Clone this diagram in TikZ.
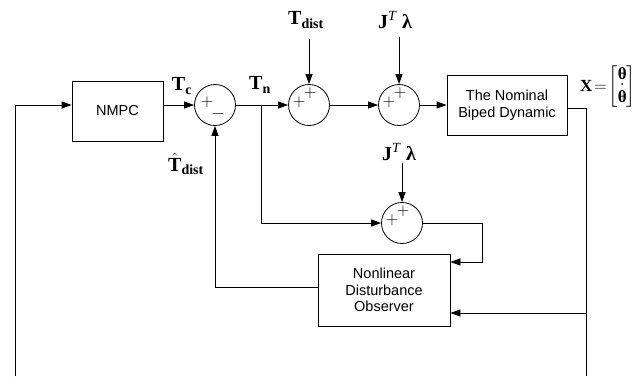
\documentclass[tikz,border=0pt]{standalone}
\usepackage{amsmath}
\usepackage{fontspec}
\setmainfont{Liberation Serif}
\newfontfamily\arialfont{Liberation Sans}
\usetikzlibrary{
  calc,
  positioning,
  arrows.meta
}
\tikzset{
  block/.style={draw,line width=0.8pt,font=\arialfont\fontsize{14.5}{16.5}\selectfont,align=center,inner sep=0pt},
  sumnode/.style={draw,circle,line width=0.8pt,minimum size=41pt,inner sep=0pt},
  sgn/.style={font=\arialfont\fontsize{17}{17}\selectfont,inner sep=0pt},
  lbl/.style={font=\fontsize{20}{24}\selectfont,inner sep=0pt},
  wire/.style={line width=0.8pt},
  arr/.style={wire,-{Triangle[length=10pt,width=7pt]}}
}
\newcommand{\bvec}[1]{\textbf{#1}}

\begin{document}
\begin{tikzpicture}[x=1pt,y=-1pt]
  \useasboundingbox (0,0) rectangle (636,376);

  % blocks
  \node[block,minimum width=91pt,minimum height=60pt] (nmpc) at (117.5,111) {NMPC};
  \node[block,minimum width=120pt,minimum height=60pt] (plant) at (507,105) {The Nominal\\Biped Dynamic};
  \node[block,minimum width=132pt,minimum height=72pt] (ndo) at (384,290) {Nonlinear\\Disturbance\\Observer};

  % summing junctions
  \node[sumnode] (s1) at (215,105) {};
  \node[sgn] at ($(s1)+(-8,-3)$) {$+$};
  \node[sgn] at ($(s1)+(3,9)$) {$-$};

  \node[sumnode] (s2) at (309,105) {};
  \node[sgn] at ($(s2)+(-10,-3)$) {$+$};
  \node[sgn] at ($(s2)+(1,-12)$) {$+$};

  \node[sumnode] (s3) at (399,105) {};
  \node[sgn] at ($(s3)+(-10,-3)$) {$+$};
  \node[sgn] at ($(s3)+(1,-12)$) {$+$};

  \node[sumnode] (s4) at (402,223) {};
  \node[sgn] at ($(s4)+(-10,-3)$) {$+$};
  \node[sgn] at ($(s4)+(1,-12)$) {$+$};

  % labels
  \node[lbl] (tc) at (182,86) {$\mathbf{T}_{\mathbf{c}}$};
  \node[lbl] (tn) at (260,85) {$\mathbf{T}_{\mathbf{n}}$};
  \node[lbl] (tdist) at (306,20) {$\mathbf{T}_{\mathbf{dist}}$};
  \node[lbl] (jl1) at (395,20) {\bvec{J}\textsuperscript{\textit{T}}\ \bvec{λ}};
  \node[lbl] (jl2) at (399,152) {\bvec{J}\textsuperscript{\textit{T}}\ \bvec{λ}};
  \node[lbl] (tdhat) at (186,164) {$\hat{\mathbf{T}}_{\mathbf{dist}}$};
  \node[lbl,font=\fontsize{17}{20}\selectfont,anchor=west] (xlbl) at (580,87)
    {$\mathbf{X}\!=\!\left[\begin{array}{@{}c@{}}\text{\bvec{θ}}\\[-6pt]\overset{\boldsymbol{\cdot}}{\text{\bvec{θ}}}\end{array}\right]$};

  % free ends
  \coordinate (fbL) at (15,376);
  \coordinate (fbR) at (586,376);
  \coordinate (xtap) at (586,108);
  \coordinate (tap) at (261,105);
  \coordinate (obsin) at (586,313);
  \coordinate (ndoin) at (482,262);

  % forward path
  \draw[arr] (nmpc.east |- s1) -- (s1);
  \draw[arr] (s1) -- (s2);
  \draw[arr] (s2) -- (s3);
  \draw[arr] (s3) -- (plant);
  \draw[arr] (s2 |- 0,39) -- (s2);
  \draw[arr] (s3 |- 0,37) -- (s3);
  \draw[arr] (s4 |- 0,163) -- (s4);

  % output and feedback
  \draw[wire] (plant.east |- xtap) -- (xtap) -- (fbR);
  \draw[arr] (obsin) -- (ndo.east |- obsin);
  \draw[arr] (fbL) |- (nmpc.west |- s1);

  % observer loop
  \draw[arr] (tap) |- (s4);
  \draw[arr] (s4) -| (ndoin) -- (ndo.east |- ndoin);
  \draw[arr] (ndo.west |- 0,287) -| (s1);
\end{tikzpicture}
\end{document}
